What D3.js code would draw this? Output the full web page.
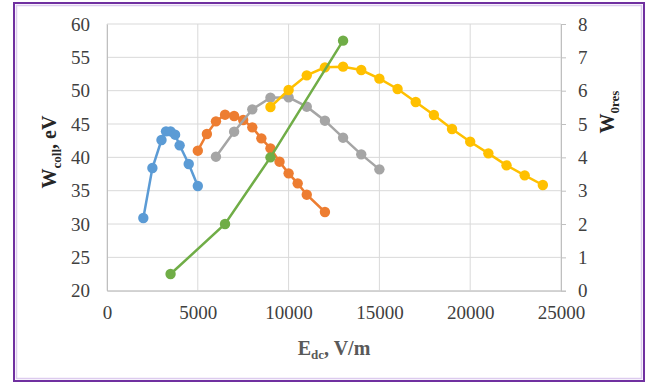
<!DOCTYPE html>
<html>
<head>
<meta charset="utf-8">
<script src="https://cdn.jsdelivr.net/npm/d3@7"></script>
<style>
body { margin: 0; background: #fff; }
svg text { font-family: "Liberation Serif", "Times New Roman", serif; }
</style>
</head>
<body>
<svg id="chart" width="649" height="383"></svg>
<script>
// series data
var blueX = [2000, 2500, 3000, 3250, 3500, 3750, 4000, 4500, 5000];
var blueY = [30.9, 38.4, 42.6, 43.9, 43.9, 43.4, 41.8, 39.0, 35.7];
var orangeX = [5000, 5500, 6000, 6500, 7000, 7500, 8000, 8500, 9000, 9500, 10000, 10500, 11000, 12000];
var orangeY = [41.0, 43.5, 45.4, 46.4, 46.2, 45.6, 44.5, 42.85, 41.35, 39.35, 37.6, 36.1, 34.4, 31.8];
var grayX = [6000, 7000, 8000, 9000, 10000, 11000, 12000, 13000, 14000, 15000];
var grayY = [40.1, 43.85, 47.2, 48.95, 49.0, 47.6, 45.5, 42.95, 40.45, 38.2];
var yellowX = [9000, 10000, 11000, 12000, 13000, 14000, 15000, 16000, 17000, 18000, 19000, 20000, 21000, 22000, 23000, 24000];
var yellowY = [47.55, 50.1, 52.3, 53.5, 53.6, 53.1, 51.8, 50.25, 48.3, 46.35, 44.25, 42.35, 40.6, 38.8, 37.3, 35.85];
// green uses the right axis
var greenX = [3500, 6500, 9000, 13000];
var greenY = [0.5, 2.0, 4.0, 7.5];

var xTicks = [0, 5000, 10000, 15000, 20000, 25000];
var yTicks = [20, 25, 30, 35, 40, 45, 50, 55, 60];
var y2Ticks = [0, 1, 2, 3, 4, 5, 6, 7, 8];

var svg = d3.select('#chart');
var pLeft = 107, pRight = 561, pTop = 24, pBottom = 290.7;

var x = d3.scaleLinear().domain([0, 25000]).range([pLeft, pRight]);
var y = d3.scaleLinear().domain([20, 60]).range([pBottom, pTop]);
var y2 = d3.scaleLinear().domain([0, 8]).range([pBottom, pTop]);

svg.append('rect').attr('width', 649).attr('height', 383).attr('fill', '#fff');

// grid
svg.append('g').selectAll('line').data(yTicks).enter().append('line')
	.attr('x1', pLeft).attr('x2', pRight)
	.attr('y1', function (d) { return y(d); }).attr('y2', function (d) { return y(d); })
	.attr('stroke', '#d9d9d9').attr('stroke-width', 1);
svg.append('g').selectAll('line').data(xTicks).enter().append('line')
	.attr('y1', pTop).attr('y2', pBottom)
	.attr('x1', function (d) { return x(d); }).attr('x2', function (d) { return x(d); })
	.attr('stroke', '#d9d9d9').attr('stroke-width', 1);

// axes
var styleAxis = function (g) {
	g.attr('font-family', null);
	g.select('.domain').attr('stroke', '#bfbfbf');
	g.selectAll('.tick line').attr('stroke', '#bfbfbf');
	g.selectAll('.tick text').attr('fill', '#404040').style('font-size', '19px')
		.style('font-family', '"Liberation Serif", serif');
};
svg.append('g').attr('transform', 'translate(0,' + pBottom + ')')
	.call(d3.axisBottom(x).tickValues(xTicks).tickSize(0).tickPadding(15).tickFormat(d3.format('d')))
	.call(styleAxis);
svg.append('g').attr('transform', 'translate(' + pLeft + ',0)')
	.call(d3.axisLeft(y).tickValues(yTicks).tickSize(0).tickPadding(17))
	.call(styleAxis);
svg.append('g').attr('transform', 'translate(' + pRight + ',0)')
	.call(d3.axisRight(y2).tickValues(y2Ticks).tickSize(5).tickPadding(12))
	.call(styleAxis);

// series
var series = [
	{xs: blueX, ys: blueY, color: '#5b9bd5', scale: y},
	{xs: orangeX, ys: orangeY, color: '#ed7d31', scale: y},
	{xs: grayX, ys: grayY, color: '#a5a5a5', scale: y},
	{xs: yellowX, ys: yellowY, color: '#ffc000', scale: y},
	{xs: greenX, ys: greenY, color: '#70ad47', scale: y2}
];
series.forEach(function (s) {
	var pts = s.xs.map(function (v, i) { return [v, s.ys[i]]; });
	var line = d3.line()
		.x(function (d) { return x(d[0]); })
		.y(function (d) { return s.scale(d[1]); });
	var g = svg.append('g');
	g.append('path').attr('d', line(pts)).attr('fill', 'none')
		.attr('stroke', s.color).attr('stroke-width', 2.5);
	g.selectAll('circle').data(pts).enter().append('circle')
		.attr('cx', function (d) { return x(d[0]); })
		.attr('cy', function (d) { return s.scale(d[1]); })
		.attr('r', 5.2).attr('fill', s.color);
});

// titles
var xt = svg.append('text').attr('x', 334).attr('y', 355).attr('text-anchor', 'middle')
	.attr('fill', '#595959').style('font-size', '20px').style('font-weight', 'bold');
xt.append('tspan').text('E');
xt.append('tspan').attr('dy', 4).style('font-size', '13px').text('dc');
xt.append('tspan').attr('dy', -4).text(', V/m');

var yt = svg.append('text').attr('transform', 'translate(56,152) rotate(-90)').attr('text-anchor', 'middle')
	.attr('fill', '#262626').style('font-size', '20px').style('font-weight', 'bold');
yt.append('tspan').text('W');
yt.append('tspan').attr('dy', 5).style('font-size', '13px').text('coll');
yt.append('tspan').attr('dy', -5).text(', eV');

var y2t = svg.append('text').attr('transform', 'translate(614,112) rotate(-90)').attr('text-anchor', 'middle')
	.attr('fill', '#262626').style('font-size', '20px').style('font-weight', 'bold');
y2t.append('tspan').text('W');
y2t.append('tspan').attr('dy', 5).style('font-size', '13px').text('0res');

// outer frame
svg.append('rect').attr('x', 14).attr('y', 3).attr('width', 630).attr('height', 378)
	.attr('fill', 'none').attr('stroke', '#7030a0').attr('stroke-width', 2);
svg.append('rect').attr('x', 16.5).attr('y', 5.5).attr('width', 625).attr('height', 373)
	.attr('fill', 'none').attr('stroke', '#dccbee').attr('stroke-width', 1.5);
</script>
</body>
</html>
